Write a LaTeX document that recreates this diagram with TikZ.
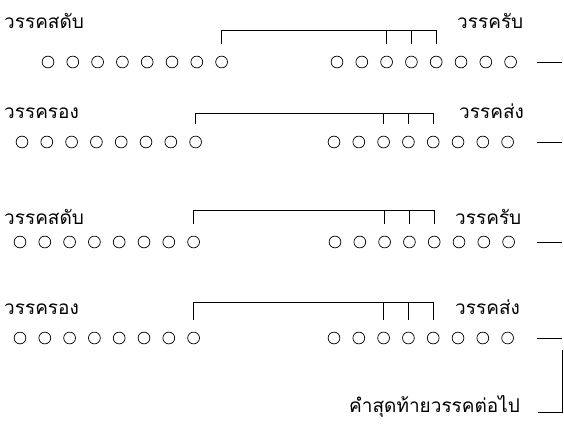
\documentclass[tikz,border=0pt]{standalone}
\usepackage{fontspec}
\newfontfamily\thaifont[Script=Thai]{Loma}
\begin{document}
\begin{tikzpicture}[x=1pt,y=-1pt,
  dot/.style={circle,draw,minimum size=11.8pt,inner sep=0pt,line width=0.7pt},
  lbl/.style={font=\thaifont\fontsize{19}{21}\selectfont,anchor=base west,inner sep=0pt},
  link/.style={line width=0.7pt}]
\useasboundingbox (0,0) rectangle (564,434);
\foreach \r/\y/\lx/\rx/\t in {1/62/48/337/30, 2/142/22/334/113, 3/242/20/335/210, 4/338/20/334/302}{
  \foreach \i in {1,...,8}{
    \node[dot] (L\r-\i) at ({\lx+(\i-1)*24.8},\y) {};
    \node[dot] (R\r-\i) at ({\rx+(\i-1)*24.8},\y) {};
  }
  \coordinate (Da\r) at (537,\y);
  \coordinate (Db\r) at (562,\y);
  \draw[link] (Da\r) -- (Db\r);
  \coordinate (T\r) at (0,\t);
  \draw[link] ([yshift=12pt]L\r-8.north) -- (L\r-8 |- T\r) -- (R\r-5 |- T\r) -- ([yshift=12pt]R\r-5.north);
  \draw[link] (R\r-3 |- T\r) -- ([yshift=12pt]R\r-3.north);
  \draw[link] (R\r-4 |- T\r) -- ([yshift=12pt]R\r-4.north);
}
\node[lbl] (a1) at (4,28) {วรรคสดับ};
\node[lbl] (b1) at (457,28) {วรรครับ};
\node[lbl] (a2) at (4,118) {วรรครอง};
\node[lbl] (b2) at (459,118) {วรรคส่ง};
\node[lbl] (a3) at (4,224) {วรรคสดับ};
\node[lbl] (b3) at (455,224) {วรรครับ};
\node[lbl] (a4) at (4,314) {วรรครอง};
\node[lbl] (b4) at (455,314) {วรรคส่ง};
\node[lbl] (nx) at (349,412) {คำสุดท้ายวรรคต่อไป};
\coordinate (E1) at (562,350);
\coordinate (E2) at (562,412);
\coordinate (E3) at (538,412);
\draw[link] (E1) -- (E2) -- (E3);
\end{tikzpicture}
\end{document}
